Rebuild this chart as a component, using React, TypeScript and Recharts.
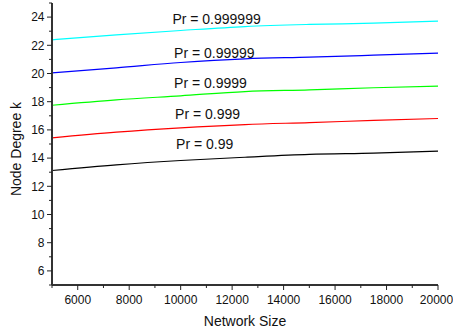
import React from 'react';
import { LineChart, Line, XAxis, YAxis, ReferenceDot } from 'recharts';

const networkSizes = [5000, 7500, 10000, 12500, 15000, 17500, 20000];
const pr99 = [13.12, 13.52, 13.83, 14.06, 14.26, 14.35, 14.49];
const pr999 = [15.44, 15.84, 16.15, 16.38, 16.52, 16.67, 16.81];
const pr9999 = [17.75, 18.13, 18.42, 18.72, 18.84, 18.99, 19.1];
const pr99999 = [20.05, 20.4, 20.78, 21.04, 21.16, 21.3, 21.44];
const pr999999 = [22.39, 22.74, 23.05, 23.33, 23.48, 23.57, 23.71];

const xTicks = [5000, 6000, 7000, 8000, 9000, 10000, 11000, 12000, 13000, 14000, 15000, 16000, 17000, 18000, 19000, 20000];
const yTicks = [5, 6, 7, 8, 9, 10, 11, 12, 13, 14, 15, 16, 17, 18, 19, 20, 21, 22, 23, 24, 25];

const curveLabels = [
  { text: 'Pr = 0.999999', x: 9678, y: 23.48 },
  { text: 'Pr = 0.99999', x: 9744, y: 21.11 },
  { text: 'Pr = 0.9999', x: 9744, y: 18.94 },
  { text: 'Pr = 0.999', x: 9783, y: 16.76 },
  { text: 'Pr = 0.99', x: 9822, y: 14.61 },
];

const data = networkSizes.map((n, i) => ({
  n,
  a: pr99[i],
  b: pr999[i],
  c: pr9999[i],
  d: pr99999[i],
  e: pr999999[i],
}));

const FONT = '"Liberation Sans", Arial, sans-serif';

const XTick = (props: any) => {
  const { x, y, payload } = props;
  const v = payload.value;
  const major = v % 2000 === 0;
  return (
    <g>
      <line x1={x} y1={y} x2={x} y2={y + (major ? 5 : 3)} stroke="#222" strokeWidth={1} />
      {major && (
        <text x={x} y={y + 18.5} dx={v === 20000 ? -1.5 : 0} textAnchor="middle" fontSize={12} fontFamily={FONT} fill="#111">
          {v}
        </text>
      )}
    </g>
  );
};

const YTick = (props: any) => {
  const { x, y, payload } = props;
  const v = payload.value;
  const major = v % 2 === 0;
  return (
    <g>
      <line x1={x} y1={y} x2={x - (major ? 5 : 3)} y2={y} stroke="#222" strokeWidth={1} />
      {major && (
        <text x={x - 7.5} y={y + 4.3} textAnchor="end" fontSize={12} fontFamily={FONT} fill="#111">
          {v}
        </text>
      )}
    </g>
  );
};

const YLabel = (props: any) => {
  const vb = props.viewBox || {};
  const cy = (vb.y ?? 3) + (vb.height ?? 282) / 2 + 5;
  const bx = 20.5;
  return (
    <text x={bx} y={cy} transform={`rotate(-90, ${bx}, ${cy})`} textAnchor="middle" fontSize={14} fontFamily={FONT} fill="#111">
      Node Degree k
    </text>
  );
};

export default function App() {
  return (
    <div style={{ position: 'absolute', left: 0, top: 0, width: 453, height: 333, background: '#fff' }}>
      <LineChart width={453} height={333} data={data} margin={{ top: 3, right: 15, left: 0, bottom: 0 }}>
        <XAxis
          dataKey="n"
          type="number"
          domain={[5000, 20000]}
          ticks={xTicks}
          interval={0}
          tickSize={0}
          tickMargin={0}
          tickLine={false}
          tick={<XTick />}
          height={48}
          axisLine={{ stroke: '#333', strokeWidth: 2 }}
          label={{ value: 'Network Size', position: 'insideBottom', offset: 7, fontSize: 14, fontFamily: FONT, fill: '#111' }}
        />
        <XAxis
          xAxisId="top"
          orientation="top"
          dataKey="n"
          type="number"
          domain={[5000, 20000]}
          tick={false}
          tickLine={false}
          height={0}
          axisLine={{ stroke: '#222', strokeWidth: 1 }}
        />
        <YAxis
          type="number"
          domain={[5, 25]}
          ticks={yTicks}
          interval={0}
          tickSize={0}
          tickMargin={0}
          tickLine={false}
          tick={<YTick />}
          width={52}
          axisLine={{ stroke: '#333', strokeWidth: 2 }}
          label={<YLabel />}
        />
        <YAxis
          yAxisId="right"
          orientation="right"
          type="number"
          domain={[5, 25]}
          tick={false}
          tickLine={false}
          width={0}
          axisLine={{ stroke: '#777', strokeWidth: 1.5 }}
        />
        <Line dataKey="a" type="monotone" stroke="#000000" strokeWidth={1.2} dot={false} isAnimationActive={false} />
        <Line dataKey="b" type="monotone" stroke="#ff0000" strokeWidth={1.2} dot={false} isAnimationActive={false} />
        <Line dataKey="c" type="monotone" stroke="#00ff00" strokeWidth={1.2} dot={false} isAnimationActive={false} />
        <Line dataKey="d" type="monotone" stroke="#0000ff" strokeWidth={1.2} dot={false} isAnimationActive={false} />
        <Line dataKey="e" type="monotone" stroke="#00ffff" strokeWidth={1.2} dot={false} isAnimationActive={false} />
        {curveLabels.map((l) => (
          <ReferenceDot
            key={l.text}
            x={l.x}
            y={l.y}
            r={0}
            shape={(p: any) => (
              <text x={p.cx} y={p.cy} fontSize={14} fontFamily={FONT} fill="#111" textAnchor="start">
                {l.text}
              </text>
            )}
          />
        ))}
      </LineChart>
    </div>
  );
}
